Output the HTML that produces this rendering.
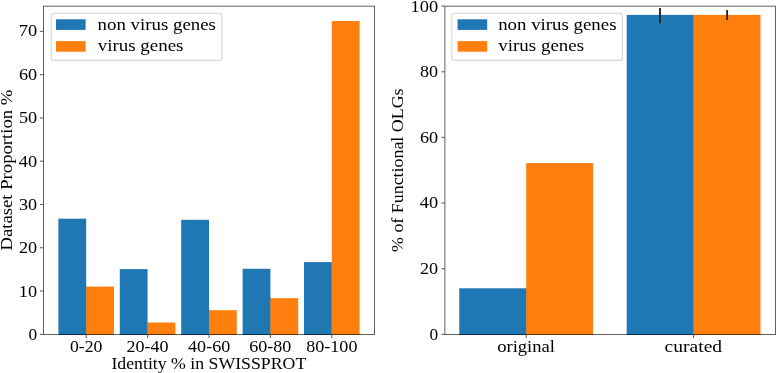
<!DOCTYPE html>
<html><head><meta charset="utf-8"><title>chart</title>
<style>html,body{margin:0;padding:0;background:#fff;}svg{display:block;will-change:transform;}</style>
</head><body>
<svg width="777" height="373" viewBox="0 0 777 373">
<rect width="777" height="373" fill="#fff"/>
<rect x="58.38" y="218.70" width="27.80" height="116.30" fill="#1f77b4"/>
<rect x="86.08" y="286.60" width="0.70" height="48.40" fill="#1f77b4"/>
<rect x="86.18" y="286.60" width="27.80" height="48.40" fill="#ff7f0e"/>
<rect x="119.79" y="269.10" width="27.80" height="65.90" fill="#1f77b4"/>
<rect x="147.49" y="322.50" width="0.70" height="12.50" fill="#1f77b4"/>
<rect x="147.59" y="322.50" width="27.80" height="12.50" fill="#ff7f0e"/>
<rect x="181.20" y="219.80" width="27.80" height="115.20" fill="#1f77b4"/>
<rect x="208.90" y="310.20" width="0.70" height="24.80" fill="#1f77b4"/>
<rect x="209.00" y="310.20" width="27.80" height="24.80" fill="#ff7f0e"/>
<rect x="242.61" y="268.80" width="27.80" height="66.20" fill="#1f77b4"/>
<rect x="270.31" y="298.20" width="0.70" height="36.80" fill="#1f77b4"/>
<rect x="270.41" y="298.20" width="27.80" height="36.80" fill="#ff7f0e"/>
<rect x="304.02" y="262.10" width="27.80" height="72.90" fill="#1f77b4"/>
<rect x="331.72" y="262.10" width="0.70" height="72.90" fill="#1f77b4"/>
<rect x="331.82" y="21.00" width="27.80" height="314.00" fill="#ff7f0e"/>
<rect x="459.30" y="288.30" width="66.90" height="46.70" fill="#1f77b4"/>
<rect x="526.10" y="288.30" width="0.70" height="46.70" fill="#1f77b4"/>
<rect x="526.20" y="163.10" width="66.90" height="171.90" fill="#ff7f0e"/>
<rect x="626.70" y="14.90" width="66.90" height="320.10" fill="#1f77b4"/>
<rect x="693.50" y="14.90" width="0.70" height="320.10" fill="#1f77b4"/>
<rect x="693.60" y="14.90" width="66.90" height="320.10" fill="#ff7f0e"/>
<line x1="660.00" y1="7.90" x2="660.00" y2="23.20" stroke="#262626" stroke-width="1.9"/>
<line x1="727.10" y1="10.00" x2="727.10" y2="19.90" stroke="#262626" stroke-width="1.9"/>
<rect x="43.5" y="6.2" width="331.00" height="328.30" fill="none" stroke="#000" stroke-opacity="0.62" stroke-width="1.0"/>
<rect x="444.9" y="6.2" width="330.60" height="328.30" fill="none" stroke="#000" stroke-opacity="0.62" stroke-width="1.0"/>
<line x1="40.00" y1="334.30" x2="43.50" y2="334.30" stroke="#616161" stroke-width="1.1"/>
<line x1="40.00" y1="291.03" x2="43.50" y2="291.03" stroke="#616161" stroke-width="1.1"/>
<line x1="40.00" y1="247.75" x2="43.50" y2="247.75" stroke="#616161" stroke-width="1.1"/>
<line x1="40.00" y1="204.48" x2="43.50" y2="204.48" stroke="#616161" stroke-width="1.1"/>
<line x1="40.00" y1="161.20" x2="43.50" y2="161.20" stroke="#616161" stroke-width="1.1"/>
<line x1="40.00" y1="117.93" x2="43.50" y2="117.93" stroke="#616161" stroke-width="1.1"/>
<line x1="40.00" y1="74.65" x2="43.50" y2="74.65" stroke="#616161" stroke-width="1.1"/>
<line x1="40.00" y1="31.38" x2="43.50" y2="31.38" stroke="#616161" stroke-width="1.1"/>
<line x1="441.40" y1="334.40" x2="444.90" y2="334.40" stroke="#616161" stroke-width="1.1"/>
<line x1="441.40" y1="268.74" x2="444.90" y2="268.74" stroke="#616161" stroke-width="1.1"/>
<line x1="441.40" y1="203.08" x2="444.90" y2="203.08" stroke="#616161" stroke-width="1.1"/>
<line x1="441.40" y1="137.42" x2="444.90" y2="137.42" stroke="#616161" stroke-width="1.1"/>
<line x1="441.40" y1="71.76" x2="444.90" y2="71.76" stroke="#616161" stroke-width="1.1"/>
<line x1="441.40" y1="6.10" x2="444.90" y2="6.10" stroke="#616161" stroke-width="1.1"/>
<line x1="86.18" y1="334.50" x2="86.18" y2="338.00" stroke="#616161" stroke-width="1.1"/>
<line x1="147.59" y1="334.50" x2="147.59" y2="338.00" stroke="#616161" stroke-width="1.1"/>
<line x1="209.00" y1="334.50" x2="209.00" y2="338.00" stroke="#616161" stroke-width="1.1"/>
<line x1="270.41" y1="334.50" x2="270.41" y2="338.00" stroke="#616161" stroke-width="1.1"/>
<line x1="331.82" y1="334.50" x2="331.82" y2="338.00" stroke="#616161" stroke-width="1.1"/>
<line x1="526.20" y1="334.50" x2="526.20" y2="338.00" stroke="#616161" stroke-width="1.1"/>
<line x1="693.60" y1="334.50" x2="693.60" y2="338.00" stroke="#616161" stroke-width="1.1"/>
<rect x="51.30" y="13.2" width="170.6" height="47.2" rx="2.5" ry="2.5" fill="#fff" fill-opacity="0.8" stroke="#d6d6d6" stroke-width="1.1"/>
<rect x="56.00" y="19.3" width="29.6" height="10.6" fill="#1f77b4"/>
<rect x="56.00" y="41.1" width="29.6" height="10.6" fill="#ff7f0e"/>
<rect x="451.80" y="13.2" width="170.6" height="47.2" rx="2.5" ry="2.5" fill="#fff" fill-opacity="0.8" stroke="#d6d6d6" stroke-width="1.1"/>
<rect x="457.60" y="19.3" width="29.6" height="10.6" fill="#1f77b4"/>
<rect x="457.60" y="41.1" width="29.6" height="10.6" fill="#ff7f0e"/>
<g font-family="'Liberation Serif', serif" font-size="17.0" fill="#000">
<text x="28.49" y="340.00" textLength="8.65" lengthAdjust="spacingAndGlyphs">0</text>
<text x="18.89" y="297.00" textLength="18.29" lengthAdjust="spacingAndGlyphs">10</text>
<text x="18.95" y="253.00" textLength="18.22" lengthAdjust="spacingAndGlyphs">20</text>
<text x="19.08" y="210.00" textLength="18.09" lengthAdjust="spacingAndGlyphs">30</text>
<text x="18.85" y="167.00" textLength="18.33" lengthAdjust="spacingAndGlyphs">40</text>
<text x="18.93" y="123.00" textLength="18.24" lengthAdjust="spacingAndGlyphs">50</text>
<text x="18.95" y="80.00" textLength="18.22" lengthAdjust="spacingAndGlyphs">60</text>
<text x="18.78" y="36.00" textLength="18.39" lengthAdjust="spacingAndGlyphs">70</text>
<text x="429.49" y="340.00" textLength="8.65" lengthAdjust="spacingAndGlyphs">0</text>
<text x="419.95" y="274.00" textLength="18.22" lengthAdjust="spacingAndGlyphs">20</text>
<text x="419.85" y="208.00" textLength="18.33" lengthAdjust="spacingAndGlyphs">40</text>
<text x="419.95" y="143.00" textLength="18.22" lengthAdjust="spacingAndGlyphs">60</text>
<text x="420.09" y="77.00" textLength="18.08" lengthAdjust="spacingAndGlyphs">80</text>
<text x="410.50" y="12.00" textLength="27.68" lengthAdjust="spacingAndGlyphs">100</text>
<text x="69.97" y="351.60" textLength="32.47" lengthAdjust="spacingAndGlyphs">0-20</text>
<text x="126.55" y="351.60" textLength="42.00" lengthAdjust="spacingAndGlyphs">20-40</text>
<text x="188.10" y="351.60" textLength="42.10" lengthAdjust="spacingAndGlyphs">40-60</text>
<text x="249.37" y="351.60" textLength="42.00" lengthAdjust="spacingAndGlyphs">60-80</text>
<text x="306.22" y="351.60" textLength="51.24" lengthAdjust="spacingAndGlyphs">80-100</text>
<text x="497.21" y="351.70" textLength="57.72" lengthAdjust="spacingAndGlyphs">original</text>
<text x="664.63" y="351.70" textLength="57.53" lengthAdjust="spacingAndGlyphs">curated</text>
<text x="111.41" y="369.10" textLength="194.83" lengthAdjust="spacingAndGlyphs">Identity % in SWISSPROT</text>
<text transform="translate(11.90,170.05) rotate(-90)" x="-80.42" y="0" textLength="160.83" lengthAdjust="spacingAndGlyphs">Dataset Proportion %</text>
<text transform="translate(402.80,170.20) rotate(-90)" x="-81.78" y="0" textLength="163.53" lengthAdjust="spacingAndGlyphs">% of Functional OLGs</text>
<text x="97.58" y="30.00" textLength="118.31" lengthAdjust="spacingAndGlyphs">non virus genes</text>
<text x="97.70" y="51.00" textLength="85.77" lengthAdjust="spacingAndGlyphs">virus genes</text>
<text x="498.18" y="30.00" textLength="118.31" lengthAdjust="spacingAndGlyphs">non virus genes</text>
<text x="498.30" y="51.00" textLength="85.77" lengthAdjust="spacingAndGlyphs">virus genes</text>
</g>
</svg>
</body></html>
